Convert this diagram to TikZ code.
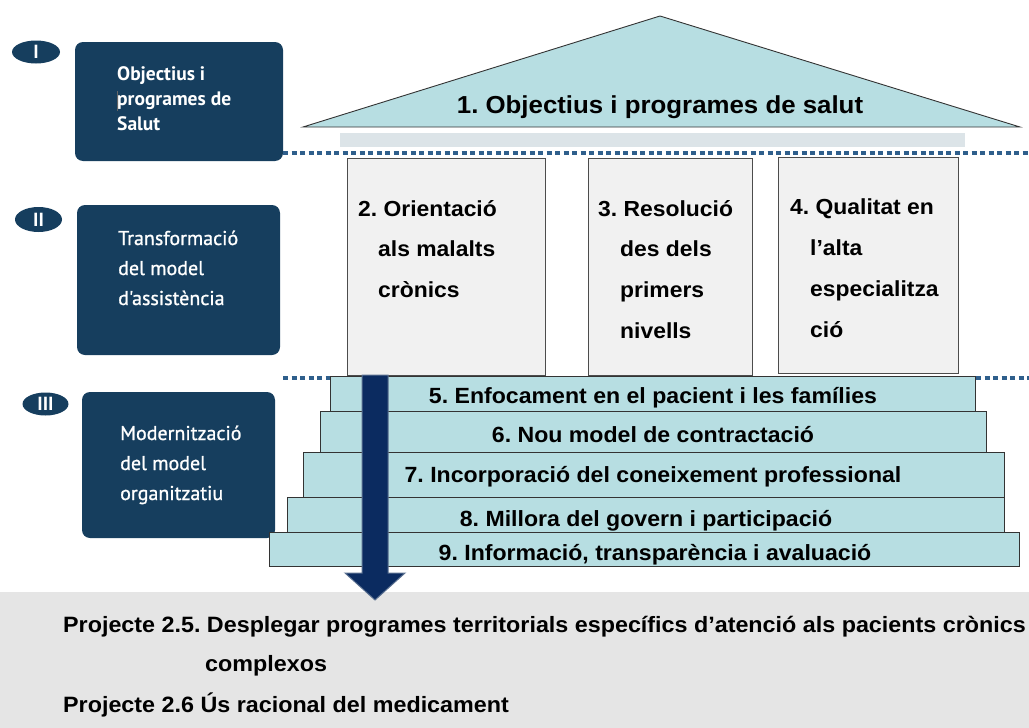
\documentclass[tikz,border=0pt]{standalone}
\usepackage{fontspec}
\setmainfont{Liberation Sans}
\newfontfamily\wide[FakeStretch=1.05]{Liberation Sans}
\newfontfamily\myr{PT Sans}
\newfontfamily\myrb[FakeBold=1]{PT Sans}
\frenchspacing
\usetikzlibrary{shapes.geometric,calc}
\definecolor{navy}{HTML}{163E5E}
\definecolor{tealfill}{HTML}{B7DEE2}
\definecolor{colfill}{HTML}{F1F1F1}
\definecolor{beamfill}{HTML}{DCE4E8}
\definecolor{bottomgray}{HTML}{E5E5E5}
\definecolor{dotblue}{HTML}{2F5F8C}
\definecolor{arrowblue}{HTML}{0B2B60}
\definecolor{arrowedge}{HTML}{5A7090}
\tikzset{
  navybox/.style={draw=none, fill=navy, rounded corners=8pt, inner sep=0pt},
  numoval/.style={ellipse, fill=navy, inner sep=0pt, text=white, font=\myr\bfseries\fontsize{19}{20}\selectfont},
  leftlbl/.style={anchor=base west, inner sep=0pt, text=white, font=\myrb\fontsize{20}{24}\selectfont},
  leftlblb/.style={anchor=base west, inner sep=0pt, text=white, font=\myr\bfseries\fontsize{19.5}{22}\selectfont},
  colbox/.style={draw=black!70, line width=0.8pt, fill=colfill, inner sep=0pt},
  stepbox/.style={draw=black!80, line width=0.8pt, fill=tealfill, inner sep=0pt},
  bigtxt/.style={inner sep=0pt, font=\wide\bfseries\fontsize{21.8}{25}\selectfont},
  bottxt/.style={anchor=base west, inner sep=0pt, font=\wide\bfseries\fontsize{22.2}{26}\selectfont},
  steptxt/.style={anchor=base, inner sep=0pt, font=\wide\bfseries\fontsize{22}{26}\selectfont},
  dotline/.style={dotblue, line width=4pt, dash pattern=on 5pt off 3.5pt},
}
\begin{document}
\begin{tikzpicture}[x=1pt,y=-1pt]
\useasboundingbox (0,0) rectangle (1029,728);
% bottom panel
\node[fill=bottomgray, minimum width=1029, minimum height=136, inner sep=0pt] (bottom) at (514.5,660) {};
% left navy boxes
\node[numoval, minimum width=48, minimum height=23] (o1) at (36,52) {I};
\node[numoval, minimum width=47, minimum height=25] (o2) at (38.5,219.5) {II};
\node[numoval, minimum width=46, minimum height=23] (o3) at (45.5,404) {III};
\node[navybox, minimum width=208, minimum height=119] (b1) at (179,101.5) {};
\node[navybox, minimum width=203, minimum height=150] (b2) at (178.5,280) {};
\node[navybox, minimum width=193, minimum height=146] (b3) at (178.5,465) {};
\node[leftlblb] (b1a) at (117,80) {Objectius i};
\node[leftlblb] (b1b) at (117,105) {programes de};
\node[leftlblb] (b1c) at (117,130) {Salut};
\coordinate (curA) at (117,91);
\coordinate (curB) at (117,111);
\draw[black!60, line width=0.6pt] (curA) -- (curB);
\node[leftlbl] (b2a) at (118,245) {Transformació};
\node[leftlbl] (b2b) at (118,275) {del model};
\node[leftlbl] (b2c) at (118,305) {d'assistència};
\node[leftlbl] (b3a) at (120,440) {Modernització};
\node[leftlbl] (b3b) at (120,470) {del model};
\node[leftlbl] (b3c) at (120,500) {organitzatiu};
% roof
\coordinate (roofL) at (303,127);
\coordinate (apex) at (660,16);
\coordinate (roofR) at (1020,127);
\draw[fill=tealfill, draw=black!80, line width=0.9pt] (roofL) -- (apex) -- (roofR) -- cycle;
\node[inner sep=0pt, anchor=base, font=\wide\bfseries\fontsize{24.6}{28}\selectfont] (rooftxt) at (660,113) {1. Objectius i programes de salut};
\node[fill=beamfill, minimum width=625, minimum height=14, inner sep=0pt] (beam) at (652.5,140) {};
% dotted lines
\coordinate (d1a) at (283,153);
\coordinate (d1b) at (1029,153);
\draw[dotline] (d1a) -- (d1b);
\coordinate (d2a) at (283,378);
\coordinate (d2b) at (330,378);
\coordinate (d3a) at (976,378);
\coordinate (d3b) at (1029,378);
\draw[dotline] (d2a) -- (d2b);
\draw[dotline] (d3a) -- (d3b);
% columns
\node[colbox, minimum width=198, minimum height=217] (c1) at (446,266.5) {};
\node[colbox, minimum width=164, minimum height=217] (c2) at (670,266.5) {};
\node[colbox, minimum width=180, minimum height=216] (c3) at (868,265) {};
\node[bigtxt, anchor=base west] (c1a) at (358,216) {2. Orientació};
\node[bigtxt, anchor=base west] (c1b) at (378,256) {als malalts};
\node[bigtxt, anchor=base west] (c1c) at (378,297) {crònics};
\node[bigtxt, anchor=base west] (c2a) at (598,216) {3. Resolució};
\node[bigtxt, anchor=base west] (c2b) at (620,256) {des dels};
\node[bigtxt, anchor=base west] (c2c) at (620,297) {primers};
\node[bigtxt, anchor=base west] (c2d) at (620,338) {nivells};
\node[bigtxt, anchor=base west] (c3a) at (790,214) {4. Qualitat en};
\node[bigtxt, anchor=base west] (c3b) at (810,255) {l’alta};
\node[bigtxt, anchor=base west] (c3c) at (810,296) {especialitza};
\node[bigtxt, anchor=base west] (c3d) at (810,337) {ció};
% steps
\node[stepbox, minimum width=750, minimum height=34] (s9) at (644,549) {};
\node[stepbox, minimum width=717, minimum height=35] (s8) at (645.5,514.5) {};
\node[stepbox, minimum width=701, minimum height=45] (s7) at (653.5,474.5) {};
\node[stepbox, minimum width=666, minimum height=41] (s6) at (653,431.5) {};
\node[stepbox, minimum width=645, minimum height=35] (s5) at (652.5,393.5) {};
\node[steptxt] (t5) at (653,403) {5. Enfocament en el pacient i les famílies};
\node[steptxt] (t6) at (653,442) {6. Nou model de contractació};
\node[steptxt] (t7) at (653,482) {7. Incorporació del coneixement professional};
\node[steptxt] (t8) at (646,526) {8. Millora del govern i participació};
\node[steptxt] (t9) at (655,560) {9. Informació, transparència i avaluació};
% arrow
\coordinate (arTop) at (375,375);
\coordinate (arTip) at (375,600);
\fill[arrowblue, draw=arrowedge, line width=1pt]
  ($(arTop)+(-13,0)$) -- ($(arTop)+(13,0)$) -- (388,573) -- (405,573) -- (arTip)
  -- (345,573) -- (362,573) -- cycle;
% bottom texts
\node[bottxt] (p1) at (63,632) {Projecte 2.5. Desplegar programes territorials específics d’atenció als pacients crònics};
\node[bottxt] (p1b) at (205,671) {complexos};
\node[bottxt] (p2) at (63,712) {Projecte 2.6 Ús racional del medicament};
\end{tikzpicture}
\end{document}
